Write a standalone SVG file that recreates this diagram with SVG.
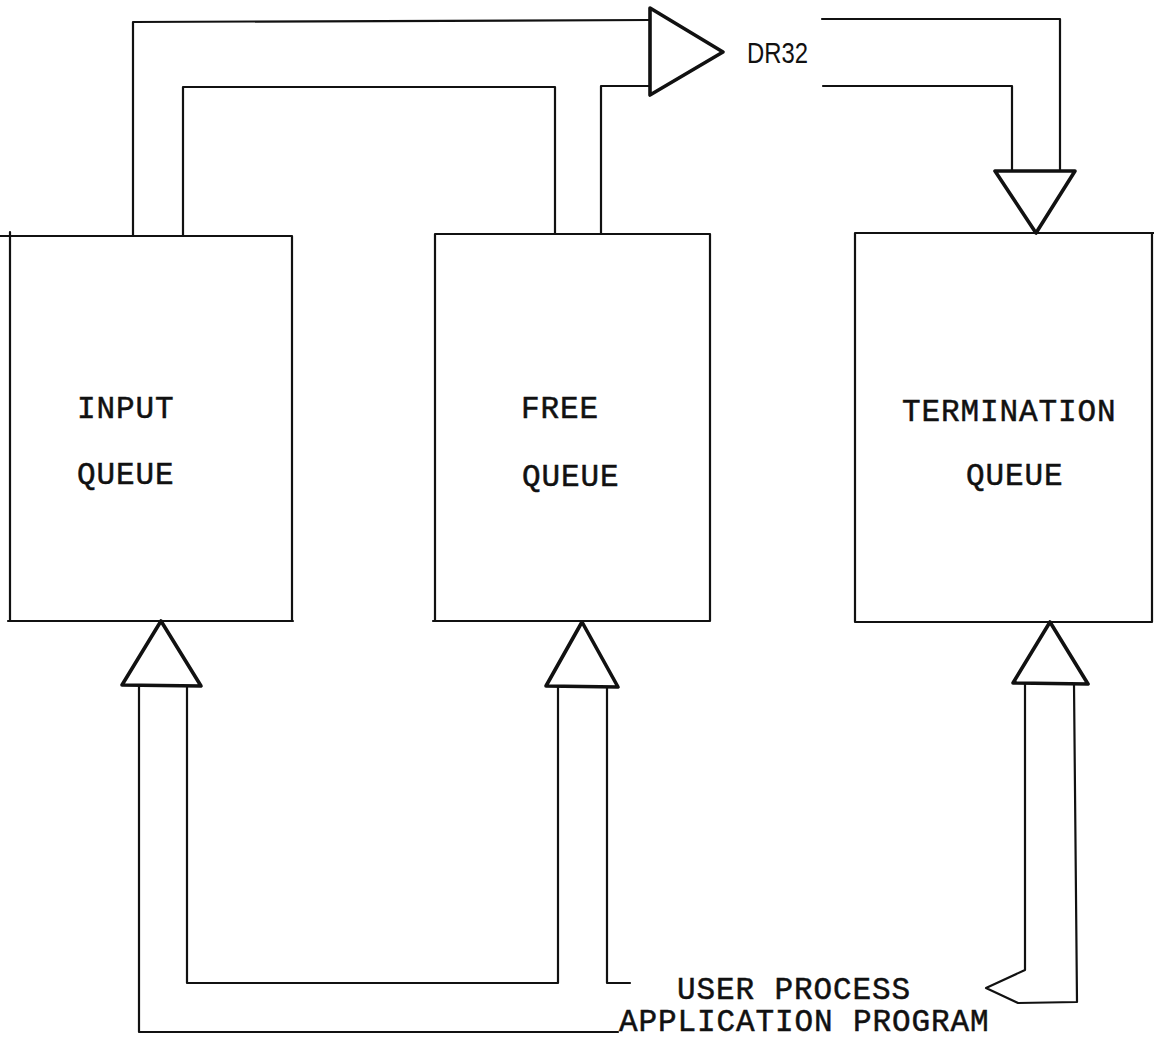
<svg xmlns="http://www.w3.org/2000/svg" width="1154" height="1041" viewBox="0 0 1154 1041">
<style>
.ln{fill:none;stroke:#111;stroke-width:2.2;stroke-linecap:round;stroke-linejoin:round}
.tri{fill:none;stroke:#111;stroke-width:3.6;stroke-linejoin:round}
.lbl{font-family:"Liberation Mono","Courier New",monospace;font-size:31px;letter-spacing:0.9px;fill:#111;stroke:#111;stroke-width:0.5}
.dr{font-family:"Liberation Sans",Arial,sans-serif;font-size:30px;fill:#111}
</style>
<rect width="1154" height="1041" fill="#fff"/>
<g id="input-queue">
<path class="ln" d="M0 236 L292 236 M10 232 L10 621 M8 621 L293 621 M292 236 L292 621"/>
<text class="lbl" x="77" y="418">INPUT</text>
<text class="lbl" x="77" y="484">QUEUE</text>
</g>
<g id="free-queue">
<path class="ln" d="M435 234 L710 234 M435 234 L435 621 M433 621 L710 621 M710 234 L710 621"/>
<text class="lbl" x="521" y="418">FREE</text>
<text class="lbl" x="522" y="486">QUEUE</text>
</g>
<g id="termination-queue">
<path class="ln" d="M855 233 L1154 233 M855 233 L855 622 M855 622 L1152 622 M1152 233 L1152 622"/>
<text class="lbl" x="902" y="421">TERMINATION</text>
<text class="lbl" x="966" y="485">QUEUE</text>
</g>
<g id="dr32">
<path class="tri" d="M650 8 L723 52 L650 95 Z"/>
<text class="dr" x="747" y="63" textLength="61" lengthAdjust="spacingAndGlyphs">DR32</text>
</g>
<g id="user-process">
<text class="lbl" x="677" y="999">USER PROCESS</text>
<text class="lbl" x="619" y="1031">APPLICATION PROGRAM</text>
</g>
<g id="connectors">
<path class="ln" d="M133 236 L133 22 L650 20"/>
<path class="ln" d="M183 236 L183 87 L555 87 L555 234"/>
<path class="ln" d="M601 234 L601 86 L650 86"/>
<path class="ln" d="M822 19 L1060 19 L1060 171"/>
<path class="ln" d="M823 86 L1012 86 L1012 171"/>
<path class="tri" d="M995 171 L1075 171 L1036 233 Z"/>
<path class="tri" d="M161 621 L201 686 L122 685 Z"/>
<path class="tri" d="M582 622 L618 687 L546 686 Z"/>
<path class="tri" d="M1050 622 L1088 684 L1013 683 Z"/>
<path class="ln" d="M139 687 L139 1032 L618 1032"/>
<path class="ln" d="M187 687 L187 983 L558 983 L558 687"/>
<path class="ln" d="M607 687 L607 983 L630 983"/>
<path class="ln" d="M1025 684 L1025 970 L986 988 L1018 1003 L1077 1002 L1074 684"/>
</g>
</svg>
